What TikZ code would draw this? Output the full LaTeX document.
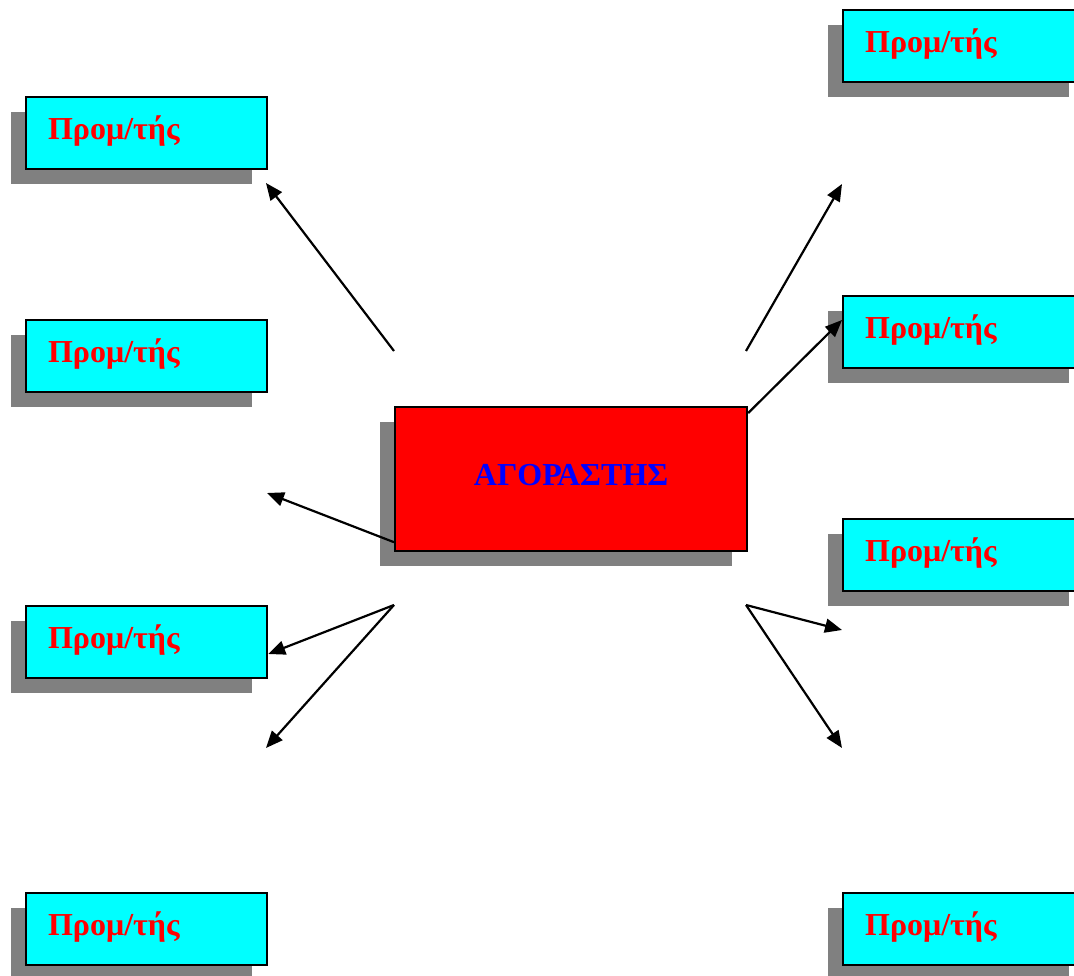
\documentclass[tikz,border=0pt]{standalone}
\usepackage{fontspec}
\setmainfont{Liberation Serif}
\usetikzlibrary{arrows.meta,shadows,calc}
\definecolor{aqua}{RGB}{0,255,255}
\definecolor{pured}{RGB}{255,0,0}
\definecolor{pureblue}{RGB}{0,0,255}
\definecolor{shadowgray}{RGB}{128,128,128}
\begin{document}
\begin{tikzpicture}[x=1pt,y=-1pt,
  boxshadow/.style={drop shadow={shadow xshift=-15pt,shadow yshift=-15pt,opacity=1,fill=shadowgray}},
  seller/.style={draw=black,line width=2.2pt,fill=aqua,boxshadow,anchor=north west,
    minimum width=241pt,minimum height=72pt,text width=197pt,inner xsep=22pt,inner ysep=0pt,
    align=left,text height=19pt,text depth=7pt,
    font=\bfseries\fontsize{32}{36}\selectfont,text=pured},
  buyer/.style={draw=black,line width=2.2pt,fill=pured,boxshadow,anchor=north west,
    minimum width=352pt,minimum height=144pt,inner sep=0pt,align=center,
    text height=21pt,text depth=9pt,
    font=\bfseries\fontsize{32}{36}\selectfont,text=pureblue},
  link/.style={line width=2.2pt,-{Triangle[length=17pt,width=14pt]}}]
\useasboundingbox (0,0) rectangle (1074,976);

% sellers on the left
\node[seller] (L1) at (25,96)  {Προμ/τής};
\node[seller] (L2) at (25,319) {Προμ/τής};
\node[seller] (L3) at (25,605) {Προμ/τής};
\node[seller] (L4) at (25,892) {Προμ/τής};

% sellers on the right
\node[seller] (R1) at (842,9)   {Προμ/τής};
\node[seller] (R2) at (842,295) {Προμ/τής};
\node[seller] (R3) at (842,518) {Προμ/τής};
\node[seller] (R4) at (842,892) {Προμ/τής};

% the buyer
\node[buyer] (C) at (394,406) {ΑΓΟΡΑΣΤΗΣ};

% loose ends of the arrows
\coordinate (p1) at (394,351);
\coordinate (q1) at (266,183);
\coordinate (p2) at (746,351);
\coordinate (q2) at (842,184);
\coordinate (q4) at (267,493);
\coordinate (p5) at (394,605);
\coordinate (q6) at (266,748);
\coordinate (p7) at (746,605);
\coordinate (q7) at (842,630);
\coordinate (q8) at (842,748);

% arrows
\draw[link] (p1) -- (q1);
\draw[link] (p2) -- (q2);
\draw[link] ($(C.north east)+(0,7)$) -- ($(R2.north west)+(0,25)$);
\draw[link] ($(C.south west)+(0,-10)$) -- (q4);
\draw[link] (p5) -- ($(L3.north east)+(0,49)$);
\draw[link] (p5) -- (q6);
\draw[link] (p7) -- (q7);
\draw[link] (p7) -- (q8);
\end{tikzpicture}
\end{document}
